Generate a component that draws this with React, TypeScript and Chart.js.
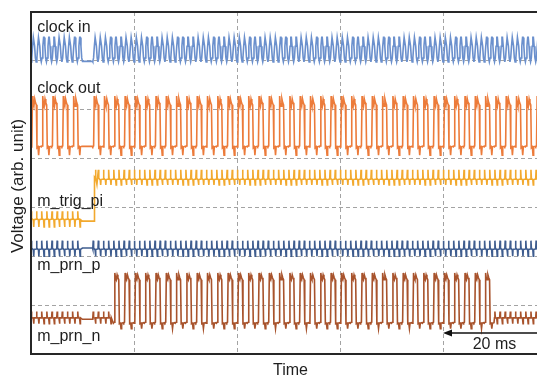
import React, { useEffect, useRef } from "react";
import { Chart, registerables } from "chart.js";
Chart.register(...registerables);

// ---- axes (time in ms, voltage in grid divisions) ----
const X_MAX_MS = 100;
const X_GRID_STEP_MS = 20;
const Y_MAX_DIV = 7;

const SERIES_NAMES = ["clock in", "clock out", "m_trig_pi", "m_prn_p", "m_prn_n"];
const SERIES_COLORS = ["#6b90cd", "#ec7b3a", "#f2a92e", "#3f5d8f", "#a8532c"];
// label anchor (ms, divisions) for each series name
const LABEL_X_MS = [1.2, 1.2, 1.2, 1.2, 1.2];
const LABEL_Y_DIV = [6.59, 5.34, 3.03, 1.72, 0.27];

const Y_TITLE = "Voltage (arb. unit)";
const X_TITLE = "Time";
const SCALE_BAR_LABEL = "20 ms";
const SCALE_BAR_FROM_MS = 80;
const SCALE_BAR_TO_MS = 100;

// ---- cycle periods (ms) ----
const CLOCK_IN_PERIOD = 1;
const CLOCK_OUT_PERIOD = 2;
const TRIG_PERIOD = 1;
const PRN_P_PERIOD = 1;
const PRN_N_PERIOD = 2;

// ---- one-cycle shapes: [phase 0..1, level in divisions] ----
const CLOCK_IN_PULSE = [[0, 5.98], [0.15, 6.06], [0.3, 6.3], [0.45, 6.48], [0.55, 6.48], [0.7, 6.3], [0.85, 6.06]];
const CLOCK_IN_IDLE = [[0, 5.99], [0.95, 5.99]];

const CLOCK_OUT_PULSE = [[0, 4.24], [0.08, 4.26], [0.14, 5.28], [0.19, 5.15], [0.28, 5.07], [0.36, 5.22], [0.44, 5.14], [0.52, 5.1], [0.58, 4.22], [0.68, 4.24], [0.74, 4.07], [0.8, 4.24], [0.95, 4.25]];
const CLOCK_OUT_IDLE = [[0, 4.25], [0.95, 4.25]];

const TRIG_LOW = [[0, 2.76], [0.08, 2.92], [0.16, 2.78], [0.45, 2.74], [0.53, 2.6], [0.6, 2.75]];
const TRIG_IDLE = [[0, 2.72], [0.95, 2.72]];
const TRIG_STEP = [[0, 2.72], [0.3, 2.72], [0.33, 3.62], [0.45, 3.6], [0.53, 3.77], [0.6, 3.6], [0.8, 3.47], [0.9, 3.58]];
const TRIG_HIGH = [[0, 3.58], [0.08, 3.77], [0.16, 3.6], [0.45, 3.56], [0.53, 3.46], [0.6, 3.57]];

const PRN_P_RIPPLE = [[0, 2.15], [0.08, 2.32], [0.16, 2.17], [0.45, 2.13], [0.53, 2.0], [0.6, 2.14]];
const PRN_P_IDLE = [[0, 2.17], [0.95, 2.17]];

const PRN_N_RIPPLE = [[0, 0.74], [0.04, 0.87], [0.08, 0.75], [0.22, 0.73], [0.27, 0.62], [0.3, 0.74], [0.5, 0.74], [0.54, 0.87], [0.58, 0.75], [0.72, 0.73], [0.77, 0.62], [0.8, 0.74]];
const PRN_N_IDLE = [[0, 0.71], [0.95, 0.71]];
const PRN_N_PULSE = [[0, 0.63], [0.08, 0.65], [0.14, 1.66], [0.19, 1.57], [0.28, 1.52], [0.36, 1.62], [0.44, 1.56], [0.52, 1.52], [0.58, 0.62], [0.68, 0.63], [0.74, 0.52], [0.8, 0.63], [0.95, 0.64]];

// ---- run-length sequences of cycles: [number of cycles, shape] ----
const CLOCK_IN_RUNS: [number, number[][]][] = [[10, CLOCK_IN_PULSE], [2, CLOCK_IN_IDLE], [88, CLOCK_IN_PULSE]];
const CLOCK_OUT_RUNS: [number, number[][]][] = [[5, CLOCK_OUT_PULSE], [1, CLOCK_OUT_IDLE], [44, CLOCK_OUT_PULSE]];
const TRIG_RUNS: [number, number[][]][] = [[10, TRIG_LOW], [2, TRIG_IDLE], [1, TRIG_STEP], [87, TRIG_HIGH]];
const PRN_P_RUNS: [number, number[][]][] = [[10, PRN_P_RIPPLE], [2, PRN_P_IDLE], [88, PRN_P_RIPPLE]];
const PRN_N_RUNS: [number, number[][]][] = [[5, PRN_N_RIPPLE], [1, PRN_N_IDLE], [2, PRN_N_RIPPLE], [37, PRN_N_PULSE], [5, PRN_N_RIPPLE]];

function expand(period: number, runs: [number, number[][]][]) {
  const pts: { x: number; y: number }[] = [];
  let c = 0;
  for (const [n, shape] of runs) {
    for (let k = 0; k < n; k++) {
      const t0 = (c + k) * period;
      for (const [ph, v] of shape) pts.push({ x: t0 + ph * period, y: v });
    }
    c += n;
  }
  const last = runs[runs.length - 1][1];
  pts.push({ x: c * period, y: last[0][1] });
  return pts;
}

const SERIES_DATA = [
  expand(CLOCK_IN_PERIOD, CLOCK_IN_RUNS),
  expand(CLOCK_OUT_PERIOD, CLOCK_OUT_RUNS),
  expand(TRIG_PERIOD, TRIG_RUNS),
  expand(PRN_P_PERIOD, PRN_P_RUNS),
  expand(PRN_N_PERIOD, PRN_N_RUNS),
];

const FONT = "'Liberation Sans', Arial, Helvetica, sans-serif";
const TEXT_COLOR = "#1e1e1e";

const decorPlugin = {
  id: "decor",
  afterDatasetsDraw(chart: any) {
    const { ctx, chartArea: a, scales } = chart;
    const xs = scales.x;
    const ys = scales.y;
    ctx.save();
    // frame (top, left, bottom)
    ctx.strokeStyle = "#262626";
    ctx.lineWidth = 2;
    ctx.beginPath();
    ctx.moveTo(chart.width + 5, a.top);
    ctx.lineTo(a.left, a.top);
    ctx.lineTo(a.left, a.bottom);
    ctx.lineTo(chart.width + 5, a.bottom);
    ctx.stroke();

    ctx.fillStyle = TEXT_COLOR;
    ctx.font = `16px ${FONT}`;
    ctx.textAlign = "left";
    ctx.textBaseline = "alphabetic";
    SERIES_NAMES.forEach((name, i) => {
      ctx.fillText(name, xs.getPixelForValue(LABEL_X_MS[i]), ys.getPixelForValue(LABEL_Y_DIV[i]));
    });

    // scale bar
    const x1 = xs.getPixelForValue(SCALE_BAR_FROM_MS);
    const x2 = xs.getPixelForValue(SCALE_BAR_TO_MS);
    const yb = a.bottom - 21;
    ctx.strokeStyle = "#111";
    ctx.lineWidth = 1.5;
    ctx.beginPath();
    ctx.moveTo(x1 + 6, yb);
    ctx.lineTo(x2, yb);
    ctx.stroke();
    ctx.fillStyle = "#111";
    ctx.beginPath();
    ctx.moveTo(x1, yb);
    ctx.lineTo(x1 + 9, yb - 3.5);
    ctx.lineTo(x1 + 9, yb + 3.5);
    ctx.closePath();
    ctx.fill();
    ctx.fillStyle = TEXT_COLOR;
    ctx.textAlign = "center";
    ctx.fillText(SCALE_BAR_LABEL, (x1 + x2) / 2, a.bottom - 5);

    // axis titles
    ctx.fillText(X_TITLE, (a.left + a.right) / 2 + 2, a.bottom + 21);
    ctx.font = `17px ${FONT}`;
    ctx.translate(a.left - 8, (a.top + a.bottom) / 2 + 3);
    ctx.rotate(-Math.PI / 2);
    ctx.fillText(Y_TITLE, 0, 0);
    ctx.restore();
  },
};

export default function App() {
  const ref = useRef<HTMLCanvasElement>(null);
  useEffect(() => {
    document.body.style.margin = "0";
    const gridCommon = { drawTicks: false, color: "#a3a3a3", lineWidth: 1 };
    const chart = new Chart(ref.current as HTMLCanvasElement, {
      type: "line",
      data: {
        datasets: SERIES_NAMES.map((name, i) => ({
          label: name,
          data: SERIES_DATA[i],
          borderColor: SERIES_COLORS[i],
          backgroundColor: SERIES_COLORS[i],
          borderWidth: 1.6,
          pointRadius: 0,
          tension: 0,
          fill: false,
        })),
      },
      options: {
        animation: false,
        responsive: false,
        events: [],
        layout: { padding: { left: 31, top: 12, right: 0, bottom: 23 } },
        plugins: { legend: { display: false }, tooltip: { enabled: false }, title: { display: false } },
        scales: {
          x: {
            type: "linear",
            min: 0,
            max: X_MAX_MS,
            ticks: { display: false, stepSize: X_GRID_STEP_MS },
            grid: gridCommon,
            border: { display: false, dash: [4, 3] },
          },
          y: {
            type: "linear",
            min: 0,
            max: Y_MAX_DIV,
            ticks: { display: false, stepSize: 1 },
            grid: gridCommon,
            border: { display: false, dash: [4, 3] },
          },
        },
      },
      plugins: [decorPlugin],
    } as any);
    return () => chart.destroy();
  }, []);
  return (
    <div style={{ width: 537, height: 377, overflow: "hidden", background: "#fff" }}>
      <canvas ref={ref} width={546} height={377} style={{ display: "block" }} />
    </div>
  );
}
